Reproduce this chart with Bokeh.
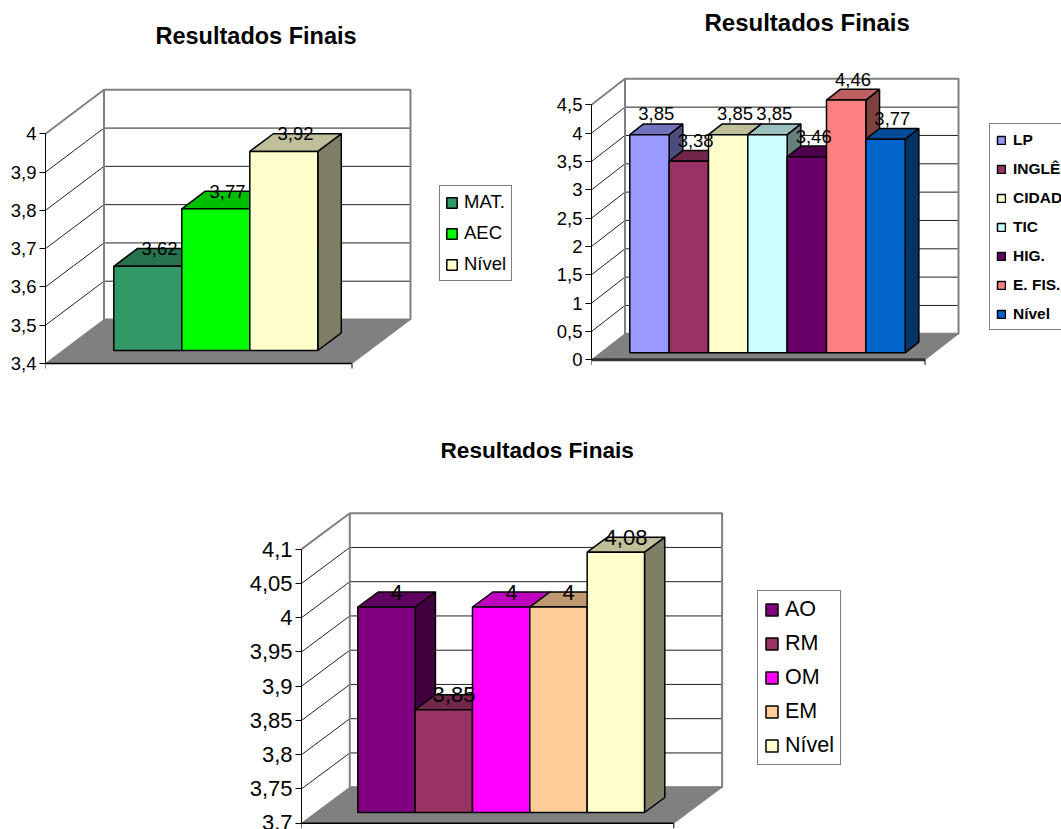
from bokeh.plotting import figure
from bokeh.layouts import column, row
from bokeh.models import (ColumnDataSource, Range1d, FixedTicker, LinearAxis, Legend, LegendItem, Label)
from bokeh.core.properties import value
from bokeh.embed import file_html
from bokeh.resources import INLINE

# ---------- data ----------
title_text = "Resultados Finais"

cats_a = ["MAT.", "AEC", "Nível"]
vals_a = [3.62, 3.77, 3.92]
colors_a = ["#339966", "#00FF00", "#FFFFCC"]
ticks_a = [3.4, 3.5, 3.6, 3.7, 3.8, 3.9, 4.0]
tick_labels_a = ["3,4", "3,5", "3,6", "3,7", "3,8", "3,9", "4"]

cats_b = ["LP", "INGLÊS", "CIDAD.", "TIC", "HIG.", "E. FIS.", "Nível"]
vals_b = [3.85, 3.38, 3.85, 3.85, 3.46, 4.46, 3.77]
colors_b = ["#9999FF", "#993366", "#FFFFCC", "#CCFFFF", "#660066", "#FF8080", "#0066CC"]
ticks_b = [0, 0.5, 1, 1.5, 2, 2.5, 3, 3.5, 4, 4.5]
tick_labels_b = ["0", "0,5", "1", "1,5", "2", "2,5", "3", "3,5", "4", "4,5"]

cats_c = ["AO", "RM", "OM", "EM", "Nível"]
vals_c = [4.0, 3.85, 4.0, 4.0, 4.08]
colors_c = ["#800080", "#993366", "#FF00FF", "#FFCC99", "#FFFFCC"]
ticks_c = [3.7, 3.75, 3.8, 3.85, 3.9, 3.95, 4.0, 4.05, 4.1]
tick_labels_c = ["3,7", "3,75", "3,8", "3,85", "3,9", "3,95", "4", "4,05", "4,1"]

FONT = "Liberation Sans"


def shade(hex_color, f):
    r, g, b = (int(hex_color[i:i + 2], 16) for i in (1, 3, 5))
    return "#%02X%02X%02X" % (int(r * f), int(g * f), int(b * f))


def chart(cats, vals, colors, ticks, tick_labels, g):
    fig_w, fig_h = g["fig"]
    fx, fy = g["origin"]                 # figure's top-left corner in the page
    ax, y0 = g["axis_x"], g["axis_y0"]   # page position of the lowest tick
    k = (g["axis_y0"] - g["axis_y1"]) / (ticks[-1] - ticks[0])   # px per unit
    bw = g["bar_w"]
    v0 = ticks[0]

    frame_top = fy
    frame_bottom = fy + fig_h
    frame_right = fx + fig_w

    x_start = -(g["bar_x"] - ax) / bw
    x_end = x_start + (frame_right - ax) / bw
    y_start = v0 - (frame_bottom - y0) / k
    y_end = v0 + (y0 - frame_top) / k

    p = figure(width=fig_w, height=fig_h, output_backend="svg", toolbar_location=None,
               x_range=Range1d(x_start, x_end), y_range=Range1d(y_start, y_end),
               x_axis_location=None, y_axis_location=None, tools="",
               min_border_left=ax - fx, min_border_right=0, min_border_bottom=0,
               min_border_top=0)
    p.outline_line_color = None
    p.background_fill_color = "white"
    p.grid.visible = False

    axis = LinearAxis(ticker=FixedTicker(ticks=ticks),
                      major_label_overrides={float(t): l for t, l in zip(ticks, tick_labels)},
                      major_label_text_font=FONT, major_label_text_font_size=g["font"],
                      major_label_text_color="black", major_label_standoff=g["tick_gap"],
                      major_tick_in=0, major_tick_out=6, minor_tick_line_color=None,
                      axis_line_color="black", major_tick_line_color="black",
                      bounds=(ticks[0], ticks[-1]))
    p.add_layout(axis, "left")

    # projection helpers: px offset from the axis corner to data units
    X = lambda px: x_start + px / bw
    Y = lambda px: px / k
    wx, wy = g["wall"]
    fw = g["front_w"]
    dx, dy = g["depth"][0] / bw, g["depth"][1] / k
    base = v0 + (y0 - g["bar_y"]) / k

    # title, placed above the chart on the same scales
    p.add_layout(Label(x=X(g["title_x"] - ax), y=v0 + Y(y0 - g["title_y"]), text=title_text,
                       text_font=FONT, text_font_size=g["title_size"], text_font_style="bold",
                       text_color="black", text_align="left", text_baseline="middle"))

    # floor
    p.patch([X(0), X(fw), X(fw + wx), X(wx)],
            [v0, v0, v0 + Y(wy), v0 + Y(wy)],
            fill_color="#808080", line_color="#808080", line_width=1)

    # back wall and side wall
    p.segment(x0=[X(wx)] * (len(ticks) - 2), x1=[X(wx + fw)] * (len(ticks) - 2),
              y0=[t + Y(wy) for t in ticks[1:-1]], y1=[t + Y(wy) for t in ticks[1:-1]],
              line_color="#222222", line_width=1)
    p.segment(x0=[X(0)] * (len(ticks) - 2), x1=[X(wx)] * (len(ticks) - 2),
              y0=[t for t in ticks[1:-1]], y1=[t + Y(wy) for t in ticks[1:-1]],
              line_color="#222222", line_width=1)
    top = ticks[-1]
    p.line([X(0), X(wx), X(wx + fw), X(wx + fw), X(wx), X(wx), X(0)],
           [top, top + Y(wy), top + Y(wy), v0 + Y(wy), v0 + Y(wy), top + Y(wy), top],
           line_color="#808080", line_width=2)
    # front edge of the floor, with its ticks
    p.line([X(0), X(fw)], [v0, v0], line_color=g["edge_color"], line_width=g["edge_w"])
    p.segment(x0=[X(0), X(fw)], x1=[X(0), X(fw)], y0=[v0, v0], y1=[v0 - Y(5), v0 - Y(5)],
              line_color="black", line_width=1)

    items = []
    for i, (cat, v, col) in enumerate(zip(cats, vals, colors)):
        l, r = i, i + 1
        p.patch([r, r + dx, r + dx, r], [base, base + dy, v - v0 + base + dy, v - v0 + base],
                fill_color=shade(col, 0.5), line_color="black", line_width=1.5)
        h = v - v0 + base
        p.patch([l, l + dx, r + dx, r], [h, h + dy, h + dy, h],
                fill_color=shade(col, 0.75), line_color="black", line_width=1.5)
        q = p.quad(left=[l], right=[r], bottom=[base], top=[h],
                   fill_color=col, line_color="black", line_width=1.5)
        items.append(LegendItem(label=cat, renderers=[q]))

    src = ColumnDataSource(dict(
        x=[i + 0.5 + dx / 2 for i in range(len(vals))],
        y=[v - v0 + base + dy for v in vals],
        t=[f"{v:g}".replace(".", ",") for v in vals]))
    p.text("x", "y", text="t", source=src, text_font=value(FONT), text_font_size=value(g["font"]),
           text_align="center", text_baseline="middle", text_color="black", y_offset=g["label_up"])

    lx0, ly1 = g["legend_box"]
    L = Legend(items=items, location=(lx0 - ax, frame_bottom - ly1), orientation="vertical",
               glyph_width=g["swatch"], glyph_height=g["swatch"], label_standoff=g["lab_gap"],
               spacing=g["spacing"], padding=g["pad"], margin=0, label_height=g["row"],
               label_text_font=FONT, label_text_font_size=g["legend_font"],
               label_text_font_style=g["legend_style"], label_text_color="black",
               label_text_baseline="middle",
               border_line_color="black", border_line_width=1, background_fill_color="white",
               background_fill_alpha=1)
    p.add_layout(L)
    return p


p1 = chart(cats_a, vals_a, colors_a, ticks_a, tick_labels_a, dict(
    fig=(530, 395), origin=(0, 0), axis_x=45, axis_y0=363, axis_y1=133.3,
    bar_x=113.3, bar_y=350, bar_w=68, depth=(23.5, 17.7), wall=(58.5, 44), front_w=306.5,
    title_x=155, title_y=35, title_size="23.5px", font="18.5px", label_up=0, tick_gap=3,
    edge_color="black", edge_w=1.5, legend_box=(439, 281), swatch=13, lab_gap=6,
    spacing=9, pad=5, row=21, legend_font="18.5px", legend_style="normal"))

p2 = chart(cats_b, vals_b, colors_b, ticks_b, tick_labels_b, dict(
    fig=(531, 395), origin=(530, 0), axis_x=591, axis_y0=359.3, axis_y1=104.3,
    bar_x=629.3, bar_y=352.3, bar_w=39.34, depth=(13.7, 10.7), wall=(33.5, 26), front_w=333.5,
    title_x=704, title_y=22, title_size="24px", font="18.5px", label_up=-10, tick_gap=3,
    edge_color="#333333", edge_w=3, legend_box=(989, 330), swatch=10, lab_gap=7,
    spacing=10, pad=6, row=19, legend_font="15.5px", legend_style="bold"))

p3 = chart(cats_c, vals_c, colors_c, ticks_c, tick_labels_c, dict(
    fig=(1061, 434), origin=(0, 395), axis_x=301, axis_y0=822.7, axis_y1=548.7,
    bar_x=357.3, bar_y=812, bar_w=57.34, depth=(20.3, 15), wall=(48.3, 36), front_w=372.3,
    title_x=440, title_y=450, title_size="22.6px", font="22px", label_up=0, tick_gap=3,
    edge_color="black", edge_w=1.5, legend_box=(757, 765), swatch=15, lab_gap=6,
    spacing=9, pad=6, row=25, legend_font="21.5px", legend_style="normal"))

page = column(row(p1, p2, spacing=0), p3, spacing=0,
              styles={"position": "absolute", "left": "0px", "top": "0px"})
open("out.html", "w").write(file_html(page, INLINE))
